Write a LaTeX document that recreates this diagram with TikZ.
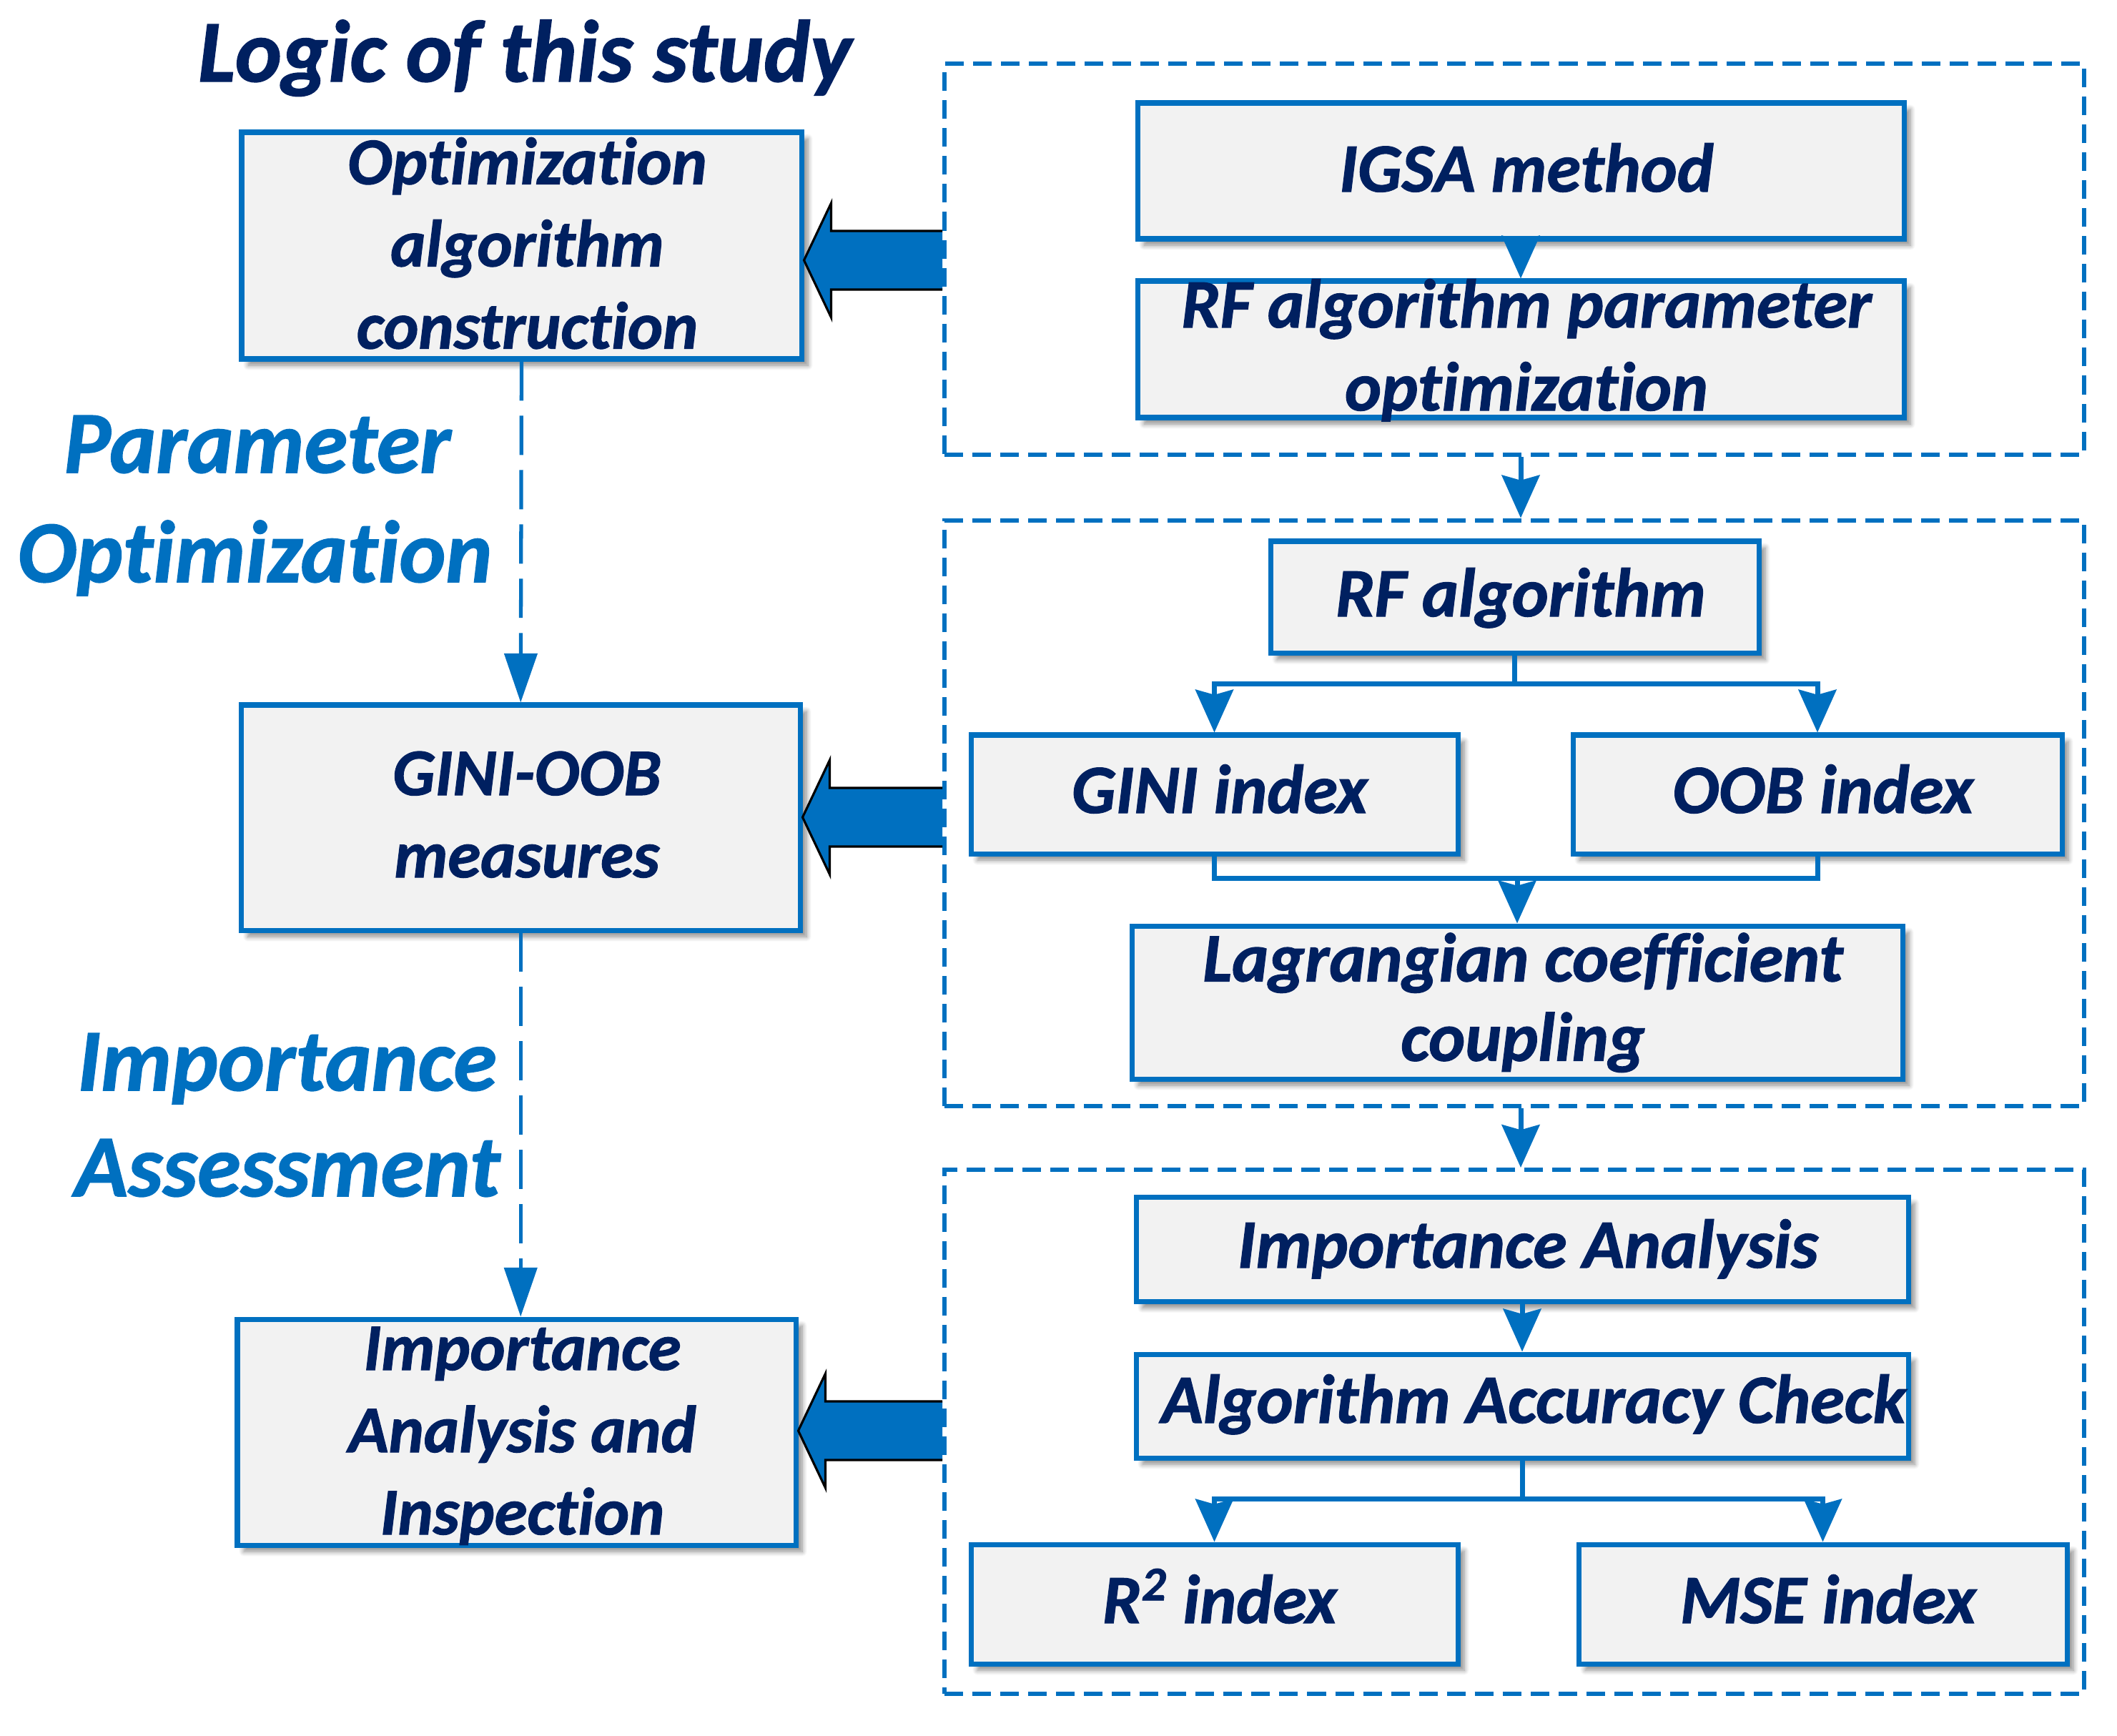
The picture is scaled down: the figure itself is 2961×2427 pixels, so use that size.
\documentclass[tikz,border=0pt]{standalone}
\usepackage{fontspec}
\setmainfont{Carlito}[Ligatures=NoCommon, BoldItalicFeatures={FakeBold=1.2}]
\usetikzlibrary{arrows.meta,fit,calc,shadows.blur}
\definecolor{navy}{HTML}{002060}
\definecolor{blu}{HTML}{0070C0}
\definecolor{boxfill}{HTML}{F2F2F2}
\begin{document}
\begin{tikzpicture}[x=0.01cm,y=-0.01cm,
  box/.style={draw=blu, line width=2pt, fill=boxfill, inner sep=0pt,
    blur shadow={shadow xshift=0.09cm, shadow yshift=-0.09cm, shadow blur steps=8, shadow opacity=45}},
  grp/.style={draw=blu, line width=1.7pt, dash pattern=on 7.4pt off 3.7pt, inner sep=0pt},
  conn/.style={draw=blu, line width=2pt, -{Stealth[length=17pt,width=15pt,inset=2pt]}},
  plain/.style={draw=blu, line width=2pt},
  dconn/.style={draw=blu, line width=1.5pt, dash pattern=on 15.6pt off 6pt, -{Triangle[length=19.5pt,width=13pt]}},
  rtxt/.style={anchor=base, text=navy, align=center, inner sep=0pt, font=\fontsize{27.5pt}{33pt}\selectfont\bfseries\itshape},
  ltxt/.style={anchor=base, text=navy, align=center, inner sep=0pt, font=\fontsize{26.5pt}{32.7pt}\selectfont\bfseries\itshape},
  lab/.style={anchor=base, text=blu, align=center, inner sep=0pt, font=\fontsize{35pt}{40pt}\selectfont\bfseries\itshape},
  bafill/.style={fill=blu},
  baline/.style={draw=black, line width=0.9pt, line join=miter}]
\useasboundingbox (0,0) rectangle (2961,2427);

% title
\node[anchor=base, text=navy, inner sep=0pt, font=\fontsize{35pt}{40pt}\selectfont\bfseries\itshape] (title) at (734,114) {Logic of this study};

% groups
\node[grp, fit={(1321,89) (2915,636)}] (g1) {};
\node[grp, fit={(1321,727.5) (2915,1547)}] (g2) {};
\node[grp, fit={(1321,1636) (2915,2369)}] (g3) {};

% left boxes
\node[box, fit={(338,185) (1121,502)}] (b1) {};
\node[box, fit={(337.5,986) (1119,1301)}] (b2) {};
\node[box, fit={(332,1845) (1113,2161)}] (b3) {};
\node[ltxt] (b1t) at (737.5,487.5) {Optimization\\algorithm\\construction};
\node[ltxt] (b2t) at (737,1227) {GINI-OOB\\measures};
\node[ltxt] (b3t) at (730.5,2146) {Importance\\Analysis and\\Inspection};

% right boxes
\node[box, fit={(1591,144) (2663,334)}] (igsa) {};
\node[box, fit={(1591,393) (2663,584)}] (rfp) {};
\node[box, fit={(1777,757) (2460,913.5)}] (rfa) {};
\node[box, fit={(1358,1028) (2039,1194)}] (gini) {};
\node[box, fit={(2200,1028) (2884,1194)}] (oob) {};
\node[box, fit={(1583,1295) (2661,1509)}] (lag) {};
\node[box, fit={(1589,1674) (2669,1820.5)}] (imp) {};
\node[box, fit={(1589,1894) (2669,2039)}] (acc) {};
\node[box, fit={(1358,2160) (2039,2327)}] (r2) {};
\node[box, fit={(2208,2160) (2891,2327)}] (mse) {};

\node[rtxt] (igsat) at (2135,268) {IGSA method};
\node[rtxt] (rfpt) at (2135,574) {RF algorithm parameter\\optimization};
\node[rtxt] (rfat) at (2127,862) {RF algorithm};
\node[rtxt] (ginit) at (1706,1137) {GINI index};
\node[rtxt] (oobt) at (2550,1137) {OOB index};
\node[rtxt, font=\fontsize{27.5pt}{31.6pt}\selectfont\bfseries\itshape] (lagt) at (2130,1483.6) {Lagrangian coefficient\\coupling};
\node[rtxt] (impt) at (2137,1773) {Importance Analysis};
\node[rtxt] (acct) at (2145,1990) {Algorithm Accuracy Check};
\node[rtxt] (r2t) at (1706,2270) {R\textsuperscript{2} index};
\node[rtxt] (mset) at (2557,2270) {MSE index};

% left labels
\node[lab] (lp1) at (360,661) {Parameter};
\node[lab] (lp2) at (356.5,814) {Optimization};
\node[lab] (li1) at (401.5,1525) {Importance};
\node[lab] (li2) at (402,1673) {Assessment};

% left dashed arrows
\draw[dconn] (b1.south) -- (b2.north);
\draw[dconn] (b2.south) -- (b2.south |- b3.north);

% right connectors
\draw[conn] (igsa.south) -- (rfp.north);
\draw[conn] (g1.south -| igsa.south) -- (g2.north -| igsa.south);
\draw[conn] (g2.south -| igsa.south) -- (g3.north -| igsa.south);
\draw[plain] (rfa.south) -- ++(0,39) coordinate (br1);
\draw[conn] (br1) -| (gini.north);
\draw[conn] (br1) -| (oob.north);
\coordinate (m1) at (0,1228);
\draw[plain] (gini.south) -- (gini.south |- m1) -- (oob.south |- m1) -- (oob.south);
\draw[conn] (lag.north |- m1) -- (lag.north);
\draw[conn] (imp.south) -- (acc.north);
\draw[plain] (acc.south) -- ++(0,54) coordinate (br2);
\draw[conn] (br2) -| (r2.north);
\draw[conn] (br2) -| (mse.north);

% block arrows
\coordinate (a1y) at (0,364);
\coordinate (a2y) at (0,1143);
\coordinate (a3y) at (0,2001);
\coordinate (a1tip) at (b1.east |- a1y);
\coordinate (a1end) at (g1.west |- a1y);
\coordinate (a2tip) at (b2.east |- a2y);
\coordinate (a2end) at (g2.west |- a2y);
\coordinate (a3tip) at (b3.east |- a3y);
\coordinate (a3end) at (g3.west |- a3y);
\foreach \t/\e in {a1tip/a1end,a2tip/a2end,a3tip/a3end}{
  \fill[bafill] (\t) -- ++(38,-80) -- ++(0,39) -| ($(\e)+(0,41)$) -| ($(\t)+(38,80)$) -- cycle;
  \draw[baline] ($(\e)+(0,-41)$) -- ($(\t)+(38,-41)$) -- ++(0,-39) -- (\t) -- ++(38,80) -- ++(0,-39) -- ($(\e)+(0,41)$);
}
\end{tikzpicture}
\end{document}
